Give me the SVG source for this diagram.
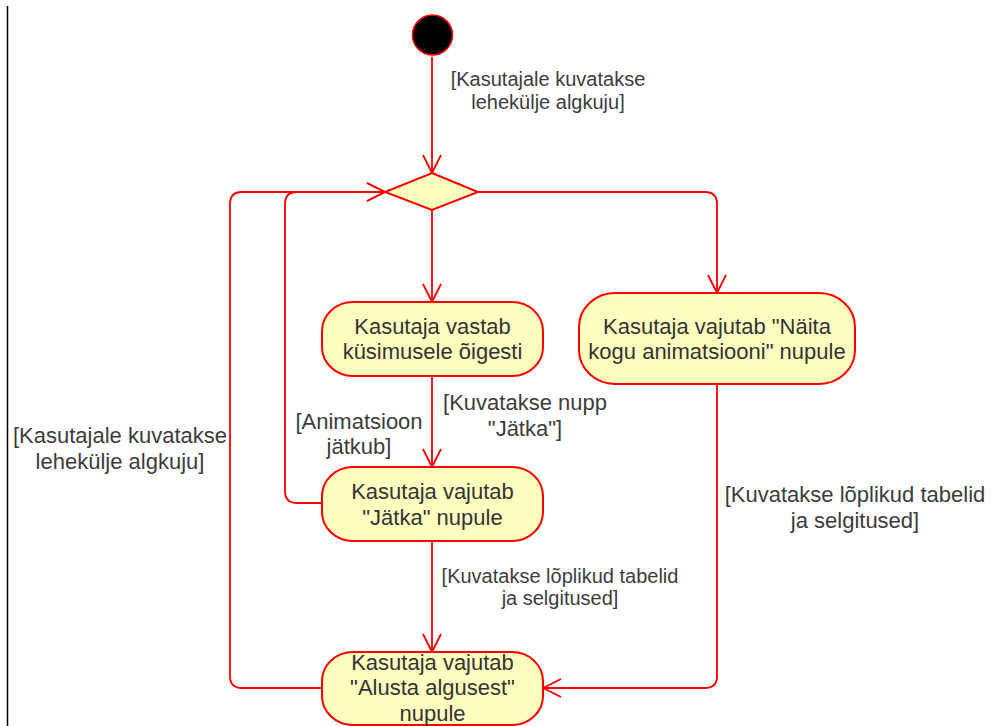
<svg xmlns="http://www.w3.org/2000/svg" width="994" height="726" viewBox="0 0 994 726">
<style>
.node{fill:#FFFFC0;stroke:#FF0000;stroke-width:2}
.edge{fill:none;stroke:#FF0000;stroke-width:1.8}
.nt{font-family:"Liberation Sans",Arial,sans-serif;font-size:22px;fill:#333333;text-anchor:middle}
.lb{font-family:"Liberation Sans",Arial,sans-serif;font-size:22px;fill:#3c3c3c;text-anchor:middle}
.lbs{font-family:"Liberation Sans",Arial,sans-serif;font-size:20px;fill:#3c3c3c;text-anchor:middle}
</style>
<defs>
<marker id="arr" markerUnits="userSpaceOnUse" markerWidth="22" markerHeight="22" refX="19" refY="10" orient="auto" overflow="visible">
<path d="M1,1 L19,10 L1,19" fill="none" stroke="#FF0000" stroke-width="1.8"/>
</marker>
</defs>
<rect width="994" height="726" fill="#FFFFFF"/>
<line x1="7.5" y1="6" x2="7.5" y2="726" stroke="#000000" stroke-width="1.5"/>

<g id="connectors">
<path class="edge" d="M432,57 L432,173" marker-end="url(#arr)"/>
<path class="edge" d="M432,210 L432,302" marker-end="url(#arr)"/>
<path class="edge" d="M478,192 L705,192 Q717,192 717,204 L717,293" marker-end="url(#arr)"/>
<path class="edge" d="M432,376 L432,467" marker-end="url(#arr)"/>
<path class="edge" d="M322,503 L297,503 Q285,503 285,491 L285,204 Q285,192 297,192 L385,192" marker-end="url(#arr)"/>
<path class="edge" d="M432,541 L432,652" marker-end="url(#arr)"/>
<path class="edge" d="M717,384 L717,676 Q717,688 705,688 L543,688" marker-end="url(#arr)"/>
<path class="edge" d="M322,688 L242,688 Q230,688 230,676 L230,204 Q230,192 242,192 L385,192" marker-end="url(#arr)"/>
<text class="lbs" x="548"><tspan x="548" y="86">[Kasutajale kuvatakse</tspan><tspan x="548" y="109">lehekülje algkuju]</tspan></text>
<text class="lb" x="525"><tspan x="525" y="410">[Kuvatakse nupp</tspan><tspan x="525" y="436">"Jätka"]</tspan></text>
<text class="lb" x="359"><tspan x="359" y="429">[Animatsioon</tspan><tspan x="359" y="454">jätkub]</tspan></text>
<text class="lb" x="120"><tspan x="120" y="443">[Kasutajale kuvatakse</tspan><tspan x="120" y="469">lehekülje algkuju]</tspan></text>
<text class="lb" x="855"><tspan x="855" y="502">[Kuvatakse lõplikud tabelid</tspan><tspan x="855" y="528">ja selgitused]</tspan></text>
<text class="lbs" x="560"><tspan x="560" y="583">[Kuvatakse lõplikud tabelid</tspan><tspan x="560" y="605">ja selgitused]</tspan></text>
</g>

<g id="start">
<circle cx="432.5" cy="35" r="20" fill="#000000" stroke="#FF0000" stroke-width="1.5"/>
</g>
<g id="decision">
<polygon class="node" points="432,173 478,192 432,210 385,192"/>
</g>
<g id="vastab">
<rect class="node" x="322" y="302" width="221" height="74" rx="31" ry="29"/>
<text class="nt"><tspan x="432.5" y="334">Kasutaja vastab</tspan><tspan x="432.5" y="359">küsimusele õigesti</tspan></text>
</g>
<g id="naita">
<rect class="node" x="579" y="293" width="276" height="91" rx="36" ry="34"/>
<text class="nt"><tspan x="717" y="334">Kasutaja vajutab "Näita</tspan><tspan x="717" y="359">kogu animatsiooni" nupule</tspan></text>
</g>
<g id="jatka">
<rect class="node" x="322" y="467" width="221" height="74" rx="31" ry="29"/>
<text class="nt"><tspan x="432.5" y="499">Kasutaja vajutab</tspan><tspan x="432.5" y="525">"Jätka" nupule</tspan></text>
</g>
<g id="alusta">
<rect class="node" x="322" y="652" width="221" height="73" rx="31" ry="29"/>
<text class="nt"><tspan x="432.5" y="670">Kasutaja vajutab</tspan><tspan x="432.5" y="695">"Alusta algusest"</tspan><tspan x="432.5" y="721">nupule</tspan></text>
</g>
</svg>
